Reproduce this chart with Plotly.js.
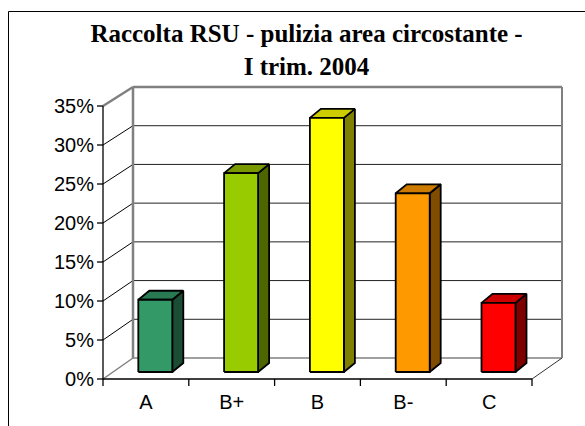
<!DOCTYPE html>
<html>
<head>
<meta charset="utf-8">
<script src="https://cdn.plot.ly/plotly-3.0.1.min.js"></script>
<style>html,body{margin:0;padding:0;background:#fff;}#chart{width:585px;height:426px;}</style>
</head>
<body>
<div id="chart"></div>
<script>
// ---- data ----
const categories = ['A', 'B+', 'B', 'B-', 'C'];
const values = [9.3, 25.6, 32.7, 23.0, 8.9];
const yTickVals = [0, 5, 10, 15, 20, 25, 30, 35];
const yTickText = ['0%', '5%', '10%', '15%', '20%', '25%', '30%', '35%'];
const frontColors = ['#339966', '#99cc00', '#ffff00', '#ff9900', '#ff0000'];
const sideColors = ['#1a4d33', '#4d6600', '#808000', '#804c00', '#800000'];
const topColors = ['#287a52', '#7a9900', '#cccc00', '#cc7a00', '#cc0000'];
const titleText = 'Raccolta RSU - pulizia area circostante -<br>I trim. 2004';

// ---- 3D projection styling (pixel constants converted to axis units) ----
const W = 585, H = 426;
const plotL = 95, plotR = 568, plotT = 84, plotB = 388;
const x0px = 103, y0px = 379;          // front origin
const pxX = 85.8, pxY = 7.8;           // px per category / per percent (front)
const xRange = [-(x0px - plotL) / pxX, (plotR - x0px) / pxX];
const yRange = [-(plotB - y0px) / pxY, (y0px - plotT) / pxY];
const nCat = categories.length;
const depthX = 30 / pxX;                         // back wall offset x
const backY = v => (21 + 7.743 * v) / pxY;       // back wall projection
const barY = v => (7 + 7.77 * v) / pxY;          // bar plane projection
const barShift = 9.4 / pxX, barHalf = 17 / pxX;
const sideDx = 11 / pxX, sideDy = 9 / pxY;
const yMax = yTickVals[yTickVals.length - 1];

const traces = [];
function line(xs, ys, color, width) {
  traces.push({type: 'scatter', mode: 'lines', x: xs, y: ys,
    line: {color: color, width: width}, hoverinfo: 'skip', showlegend: false});
}
function poly(xs, ys, fill) {
  traces.push({type: 'scatter', mode: 'lines', x: xs.concat([xs[0]]), y: ys.concat([ys[0]]),
    fill: 'toself', fillcolor: fill, line: {color: '#000', width: 1.8},
    hoverinfo: 'skip', showlegend: false});
}

// back wall gridlines & left wall diagonals
yTickVals.forEach(v => {
  if (v > 0 && v < yMax) {
    line([depthX, nCat + depthX], [backY(v), backY(v)], '#222', 1);
    line([0, depthX], [v, backY(v)], '#000', 1);
  }
});
// floor / wall edges (grey)
line([depthX, nCat + depthX], [backY(0), backY(0)], '#808080', 1.5);
line([0, depthX], [0, backY(0)], '#808080', 1.5);
line([nCat, nCat + depthX], [0, backY(0)], '#333', 1);
line([0, depthX], [yMax, backY(yMax)], '#808080', 2.5);
line([depthX, depthX], [backY(0), backY(yMax)], '#808080', 2.5);
line([depthX, nCat + depthX], [backY(yMax), backY(yMax)], '#808080', 2.5);
line([nCat + depthX, nCat + depthX], [backY(0), backY(yMax)], '#808080', 2);

// bars
values.forEach((v, i) => {
  const cx = i + 0.5 + barShift;
  const xa = cx - barHalf, xb = cx + barHalf;
  const ya = barY(0), yb = barY(v);
  poly([xb, xb + sideDx, xb + sideDx, xb], [ya, ya + sideDy, yb + sideDy, yb], sideColors[i]);
  poly([xa, xb, xb + sideDx, xa + sideDx], [yb, yb, yb + sideDy, yb + sideDy], topColors[i]);
  poly([xa, xb, xb, xa], [ya, ya, yb, yb], frontColors[i]);
});

// front axes
line([0, 0], [0, yMax], '#000', 1.3);
line([0, nCat], [0, 0], '#000', 1.3);
yTickVals.forEach(v => line([-6 / pxX, 0], [v, v], '#000', 1.3));
for (let k = 0; k <= nCat; k++) line([k, k], [0, -7 / pxY], '#000', 1.3);

const layout = {
  width: W, height: H,
  margin: {l: plotL, r: W - plotR, t: plotT, b: H - plotB, pad: 0},
  paper_bgcolor: '#fff', plot_bgcolor: 'rgba(0,0,0,0)',
  showlegend: false,
  title: {text: titleText, x: 0.524, xanchor: 'center', y: 0.901, yanchor: 'top', yref: 'container',
    font: {family: 'Liberation Serif, Times New Roman, serif', size: 25, color: '#000', weight: 'bold'}},
  xaxis: {range: xRange, showgrid: false, zeroline: false, showline: false, ticks: '',
    tickvals: categories.map((c, i) => i + 0.5), ticktext: categories,
    tickfont: {family: 'Liberation Sans, Arial, sans-serif', size: 20, color: '#000'}, fixedrange: true},
  yaxis: {range: yRange, showgrid: false, zeroline: false, showline: false, ticks: '',
    tickvals: yTickVals, ticktext: yTickText,
    tickfont: {family: 'Liberation Sans, Arial, sans-serif', size: 20, color: '#000'}, fixedrange: true},
  shapes: [{type: 'rect', xref: 'paper', yref: 'paper',
    x0: (8.5 - plotL) / (plotR - plotL), x1: (610 - plotL) / (plotR - plotL),
    y0: (plotB - 450) / (plotB - plotT), y1: (plotB - 11.5) / (plotB - plotT),
    line: {color: '#000', width: 1}, fillcolor: 'rgba(0,0,0,0)', layer: 'above'}]
};

Plotly.newPlot('chart', traces, layout, {displayModeBar: false, staticPlot: true});
</script>
</body>
</html>
